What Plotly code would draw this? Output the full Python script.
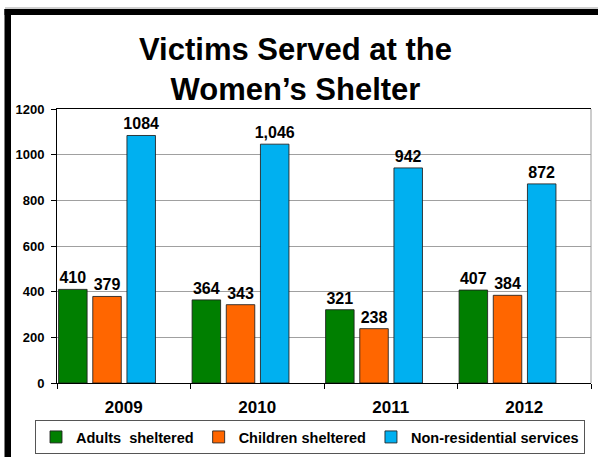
import plotly.graph_objects as go

years = ["2009", "2010", "2011", "2012"]
adults = [410, 364, 321, 407]
children = [379, 343, 238, 384]
nonres = [1084, 1046, 942, 872]
nonres_labels = ["1084", "1,046", "942", "872"]

FONT = "Arial, 'Liberation Sans', sans-serif"

# plot area in pixels
L, R, T, B = 57, 591, 109, 383
W, H = 598, 457
def px(x): return (x - L) / (R - L)
def py(y): return (B - y) / (B - T)

series = [
    ("Adults  sheltered", adults, [str(v) for v in adults], "#007F00", -0.488),
    ("Children sheltered", children, [str(v) for v in children], "#FF6600", -0.232),
    ("Non-residential services", nonres, nonres_labels, "#00B0F0", 0.024),
]

fig = go.Figure()
for name, vals, labels, color, off in series:
    fig.add_trace(go.Bar(
        x=years, y=vals, name=name, text=labels,
        textposition="outside", cliponaxis=False, constraintext="none",
        textfont=dict(family=FONT, size=16, color="black", weight="bold"),
        marker=dict(color=color, line=dict(color="rgba(30,30,30,0.85)", width=1)),
        width=0.2135, offset=off,
    ))

shapes = [
    dict(type="line", xref="paper", yref="paper", x0=px(5), x1=px(598), y0=py(8), y1=py(8),
         line=dict(color="#A0A0A0", width=1)),
    dict(type="rect", xref="paper", yref="paper", x0=px(4.5), x1=px(600), y0=py(9), y1=py(15),
         fillcolor="black", line=dict(width=0)),
    dict(type="rect", xref="paper", yref="paper", x0=px(4.5), x1=px(11), y0=py(9), y1=py(460),
         fillcolor="black", line=dict(width=0)),
    dict(type="line", xref="paper", yref="paper", x0=1, x1=1, y0=0, y1=1,
         line=dict(color="#999999", width=1)),
]

fig.update_layout(
    width=W, height=H,
    margin=dict(l=L, r=W - R, t=T, b=H - B, autoexpand=False),
    paper_bgcolor="white", plot_bgcolor="white",
    barmode="overlay",
    shapes=shapes,
    annotations=[dict(text="Victims Served at the<br>Women’s Shelter",
                      xref="paper", yref="paper", x=px(295), y=py(70),
                      xanchor="center", yanchor="middle", showarrow=False,
                      font=dict(family=FONT, size=31, color="black", weight="bold"))],
    showlegend=True,
    legend=dict(orientation="h", x=px(35), y=py(437), xanchor="left", yanchor="middle",
                bordercolor="#555555", borderwidth=1, bgcolor="white",
                font=dict(family=FONT, size=14.5, color="black", weight="bold"),
                itemwidth=30, traceorder="normal"),
    xaxis=dict(range=[-0.5, 3.5], showline=True, linecolor="black", linewidth=1, mirror=True,
               ticks="outside", tickson="boundaries", ticklen=5, tickcolor="black",
               ticklabelstandoff=9,
               tickfont=dict(family=FONT, size=17, color="black", weight="bold"),
               showgrid=False),
    yaxis=dict(range=[0, 1200], dtick=200, showline=True, linecolor="black", linewidth=1,
               ticks="outside", ticklen=5, tickcolor="black", ticklabelstandoff=4,
               tickfont=dict(family=FONT, size=13, color="black", weight="bold"),
               showgrid=True, gridcolor="#A0A0A0", gridwidth=1, zeroline=False),
)

fig.write_html("out.html", config={"displayModeBar": False},
               post_script="document.body.style.margin='0';document.body.style.overflow='hidden';")
